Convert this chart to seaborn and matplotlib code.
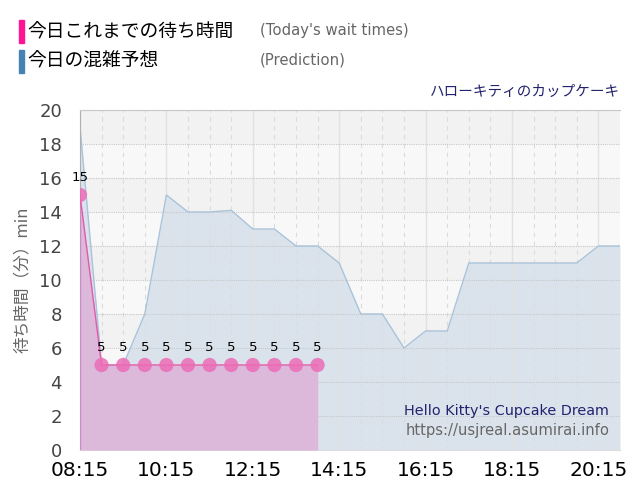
import numpy as np
import pandas as pd
import matplotlib
matplotlib.use("Agg")
import matplotlib.pyplot as plt
import seaborn as sns
from matplotlib.patches import Rectangle

# 今日これまでの待ち時間 (実績)
actual_times = ["08:15", "08:45", "09:15", "09:45", "10:15", "10:45",
                "11:15", "11:45", "12:15", "12:45", "13:15", "13:45"]
actual_waits = [15, 5, 5, 5, 5, 5, 5, 5, 5, 5, 5, 5]

# 今日の混雑予想
pred_times = ["08:15", "08:45", "09:15", "09:45", "10:15", "10:45", "11:15",
              "11:45", "12:15", "12:45", "13:15", "13:45", "14:15", "14:45",
              "15:15", "15:45", "16:15", "16:45", "17:15", "17:45", "18:15",
              "18:45", "19:15", "19:45", "20:15", "20:45"]
pred_waits = [19, 5, 5, 8, 15, 14, 14, 14.1, 13, 13, 12, 12, 11, 8,
              8, 6, 7, 7, 11, 11, 11, 11, 11, 11, 12, 12]

tick_labels = ["08:15", "10:15", "12:15", "14:15", "16:15", "18:15", "20:15"]
y_ticks = [0, 2, 4, 6, 8, 10, 12, 14, 16, 18, 20]


def to_min(t):
    h, m = t.split(":")
    return int(h) * 60 + int(m)


df_act = pd.DataFrame({"t": [to_min(t) for t in actual_times], "wait": actual_waits})
df_pred = pd.DataFrame({"t": [to_min(t) for t in pred_times], "wait": pred_waits})

sns.set_style("white")
plt.rcParams["font.family"] = ["DejaVu Sans", "Noto Sans CJK JP"]
jp = ["Noto Sans CJK JP", "DejaVu Sans"]

fig = plt.figure(figsize=(6.4, 5), dpi=100)
ax = fig.add_axes([80 / 640, 50 / 500, 540 / 640, 340 / 500])

# 背景の縞
for k in range(10):
    ax.axhspan(2 * k, 2 * k + 2, color="#f2f2f2" if k % 2 else "#f8f8f8", zorder=0, lw=0)

# 予想 (青)
ax.fill_between(df_pred["t"], df_pred["wait"], 0, color="#dae3ec", zorder=1, lw=0)
sns.lineplot(data=df_pred, x="t", y="wait", ax=ax, color="#a9c3da", lw=1, zorder=2)

# 実績 (ピンク)
ax.fill_between(df_act["t"], df_act["wait"], 0, color="#dcb8da", zorder=3, lw=0)
ax.plot([df_act["t"].iloc[0], df_act["t"].iloc[0]], [0, df_act["wait"].iloc[0]],
        color="#c98cc4", lw=1, zorder=4)
sns.lineplot(data=df_act, x="t", y="wait", ax=ax, color="#e35aa8", lw=1, zorder=4)
sns.scatterplot(data=df_act, x="t", y="wait", ax=ax, color="#ec6cb6", s=105,
                alpha=0.85, edgecolor="none", zorder=5)
for t, w in zip(df_act["t"], df_act["wait"]):
    ax.annotate(str(w), (t, w), xytext=(0, 8), textcoords="offset points",
                ha="center", va="bottom", fontsize=9.5, color="black", zorder=6)

# グリッド
for t in range(to_min("08:15"), to_min("20:45") + 1, 30):
    if (t - to_min("08:15")) % 120 == 0:
        ax.axvline(t, color="#e2e2e2", lw=1, zorder=1.5)
    else:
        ax.axvline(t, color="#dcdcdc", lw=0.8, ls=(0, (4, 4)), zorder=1.5)
for y in y_ticks[1:]:
    ax.axhline(y, color="#c8c8c8", lw=0.8, ls=(0, (1, 1)), zorder=1.5)

ax.set_xlim(to_min("08:15"), to_min("20:45"))
ax.set_ylim(0, 20)
ax.set_xticks([to_min(t) for t in tick_labels])
ax.set_xticklabels(tick_labels, fontsize=14.5, color="black")
ax.set_yticks(y_ticks)
ax.set_yticklabels([str(v) for v in y_ticks], fontsize=13, color="#444444")
ax.tick_params(axis="x", length=6, color="#dddddd", pad=2)
ax.tick_params(axis="y", length=0, pad=13)
ax.set_xlabel("")
ax.set_ylabel("待ち時間（分）min", family=jp, fontsize=12, color="#666666", labelpad=6)

for s in ["right"]:
    ax.spines[s].set_visible(False)
ax.spines["top"].set_color("#c8c8c8")
ax.spines["top"].set_linestyle((0, (1, 1)))
ax.spines["left"].set_color("#b0b0b0")
ax.spines["bottom"].set_color("#dddddd")

# 凡例
fig.patches.append(Rectangle((19 / 640, 1 - 43 / 500), 5 / 640, 23 / 500,
                             transform=fig.transFigure, color="#ff1493"))
fig.patches.append(Rectangle((19 / 640, 1 - 73 / 500), 5 / 640, 23 / 500,
                             transform=fig.transFigure, color="#4682b4"))
fig.text(27 / 640, 1 - 32 / 500, "今日これまでの待ち時間", family=jp, fontsize=13.5,
         va="center", ha="left", color="black")
fig.text(27 / 640, 1 - 61 / 500, "今日の混雑予想", family=jp, fontsize=13.5,
         va="center", ha="left", color="black")
fig.text(260 / 640, 1 - 31 / 500, "(Today's wait times)", fontsize=10.7,
         va="center", ha="left", color="#666666")
fig.text(260 / 640, 1 - 60 / 500, "(Prediction)", fontsize=10.7,
         va="center", ha="left", color="#666666")

# タイトル
fig.text(620 / 640, 1 - 92 / 500, "ハローキティのカップケーキ", family=jp, fontsize=10.5,
         va="center", ha="right", color="#22226e")

# 透かし
ax.text(0.98, 0.115, "Hello Kitty's Cupcake Dream", transform=ax.transAxes,
        fontsize=10.4, ha="right", va="center", color="#22226e", zorder=7)
ax.text(0.98, 0.057, "https://usjreal.asumirai.info", transform=ax.transAxes,
        fontsize=10.6, ha="right", va="center", color="#666666", zorder=7)

fig.savefig("out.png", dpi=100)
